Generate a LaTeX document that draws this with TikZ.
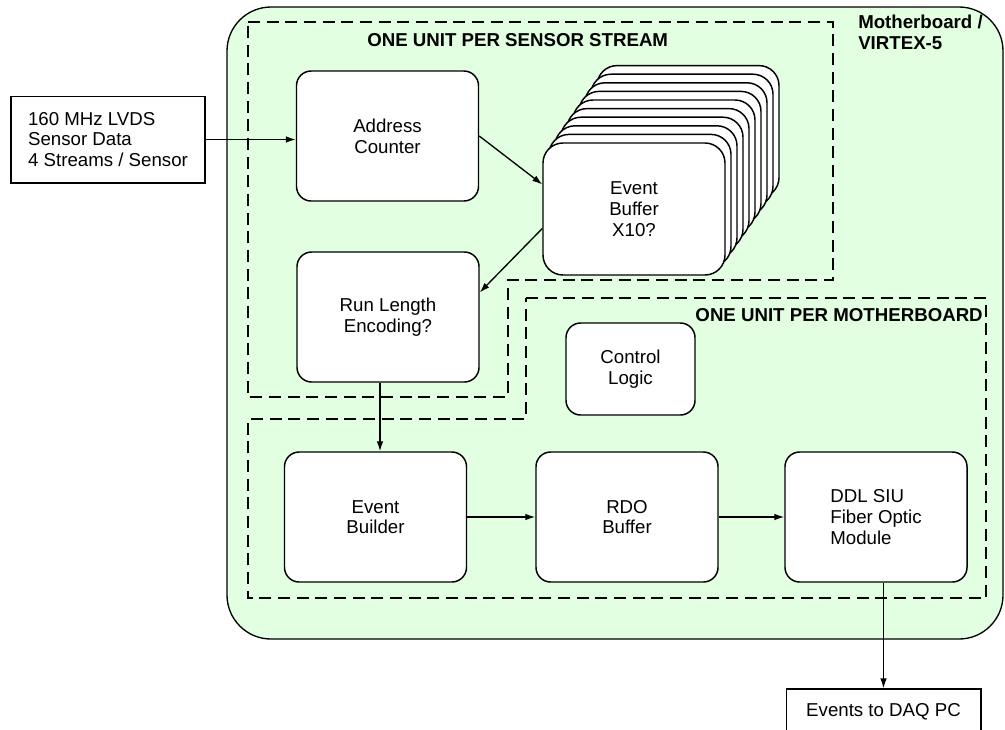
\documentclass[tikz,border=0pt]{standalone}
\usepackage{fontspec}
\setmainfont{Liberation Sans}
\usetikzlibrary{arrows.meta}
\definecolor{boardgreen}{RGB}{226,255,226}

\begin{document}
\begin{tikzpicture}[x=0.75pt, y=-0.75pt,
    font=\fontsize{14}{15.5}\selectfont,
    block/.style={draw=black, line width=1.1pt, fill=white, rounded corners=11pt,
        minimum width=136.5pt, minimum height=97.5pt, align=center, inner sep=0pt},
    bufbox/.style={block, minimum height=99pt, rounded corners=15pt},
    iobox/.style={draw=black, line width=1pt, fill=white, inner sep=0pt},
    region/.style={dash pattern=on 9pt off 5pt, line width=1.2pt},
    flow/.style={-{Latex[length=7.5pt,width=5pt]}, line width=1pt},
    heading/.style={font=\fontsize{14}{15.5}\selectfont\bfseries, inner sep=0pt}]
    \useasboundingbox (0,0) rectangle (1005,729);
    % motherboard
    \draw[fill=boardgreen, line width=1pt, rounded corners=33pt] (227,7) rectangle (1003,639);
    \node[heading, align=left, anchor=north west] (board) at (858,15) {Motherboard /\\VIRTEX-5};
    % dashed regions
    \draw[region] (248,22) -- (833,22) -- (833,280) -- (508,280) -- (508,397) -- (248,397) -- cycle;
    \draw[region] (526,298) -- (986,298) -- (986,598) -- (248,598) -- (248,419) -- (526,419) -- cycle;
    % region labels
    \node[heading, anchor=base west] (streamlbl) at (367,46) {ONE UNIT PER SENSOR STREAM};
    \node[heading, anchor=base east] (mblbl) at (983,321) {ONE UNIT PER MOTHERBOARD};
    % event buffer stack, back to front
    \foreach \i in {9,...,1}
        \node[bufbox] (ebuf\i) at ({634+6*\i},{209-8.6*\i}) {};
    \node[bufbox] (ebuf) at (634,209) {Event\\Buffer\\X10?};
    % per stream blocks
    \node[block] (addr) at (387.5,136) {Address\\Counter};
    \node[block] (rle) at (388,317) {Run Length\\Encoding?};
    % per board blocks
    \node[block, minimum width=96.75pt, minimum height=69pt] (ctrl) at (630.5,369) {Control\\Logic};
    \node[block] (evb) at (375.5,517) {Event\\Builder};
    \node[block] (rdo) at (627,517) {RDO\\Buffer};
    \node[block, align=left] (ddl) at (876,517) {DDL SIU\\Fiber Optic\\Module};
    % input and output
    \node[iobox, minimum width=145.5pt, minimum height=65pt, align=left] (lvds) at (108,139.5) {160 MHz LVDS\\Sensor Data\\4 Streams / Sensor};
    \node[iobox, minimum width=146pt, minimum height=34.5pt] (daq) at (883.5,712) {Events to DAQ PC};
    % data flow
    \draw[flow] (lvds.east) -- (lvds.east -| addr.west);
    \draw[flow] (addr.east) -- (ebuf.165);
    \draw[flow] (ebuf.192) -- (rle.15);
    \draw[flow] ([xshift=-6pt]rle.south) -- ([xshift=-6pt]rle.south |- evb.north);
    \draw[flow] (evb) -- (rdo);
    \draw[flow] (rdo) -- (ddl);
    \draw[flow] (ddl.south -| daq.north) -- (daq.north);
\end{tikzpicture}
\end{document}
